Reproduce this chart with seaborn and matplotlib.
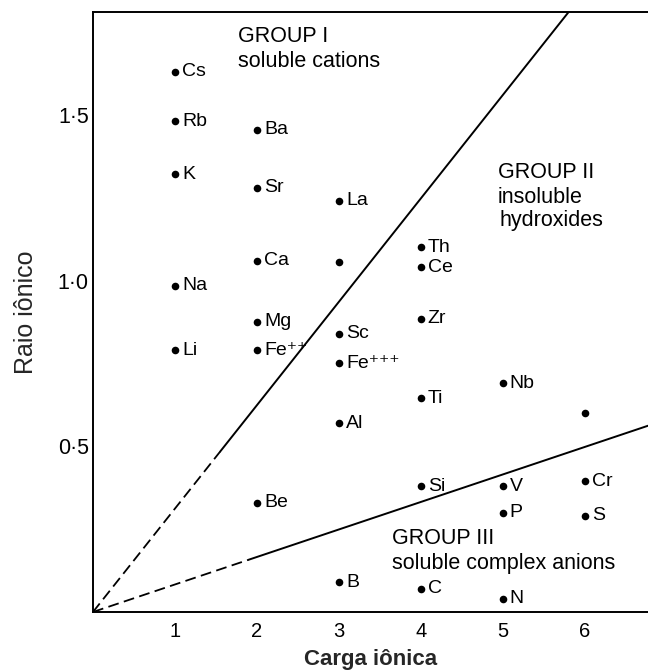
import matplotlib
matplotlib.use("Agg")
import matplotlib.pyplot as plt
import seaborn as sns
import pandas as pd
import numpy as np

# ---- data ----
elements = ["Cs", "Rb", "K", "Na", "Li",
            "Ba", "Sr", "Ca", "Mg", "Fe⁺⁺", "Be",
            "La", "", "Sc", "Fe⁺⁺⁺", "Al", "B",
            "Th", "Ce", "Zr", "Ti", "Si", "C",
            "Nb", "V", "P", "N",
            "", "Cr", "S"]
charge = [1, 1, 1, 1, 1,
          2, 2, 2, 2, 2, 2,
          3, 3, 3, 3, 3, 3,
          4, 4, 4, 4, 4, 4,
          5, 5, 5, 5,
          6, 6, 6]
radius = [1.63, 1.48, 1.32, 0.985, 0.79,
          1.455, 1.28, 1.06, 0.875, 0.79, 0.33,
          1.24, 1.055, 0.84, 0.75, 0.57, 0.09,
          1.10, 1.04, 0.885, 0.645, 0.38, 0.07,
          0.69, 0.38, 0.30, 0.04,
          0.60, 0.395, 0.29]

boundary_slopes = [0.312, 0.083]     # ionic potential boundaries (radius / charge)
boundary_dash_end = [1.55, 1.9]      # dashed portion near origin

yticks = [0.5, 1.0, 1.5]
ytick_labels = ["0·5", "1·0", "1·5"]
xticks = [1, 2, 3, 4, 5, 6]
xlim = (0, 6.77)
ylim = (0, 1.81)

group_texts = [
    (1.77, 1.735, "GROUP I"), (1.77, 1.66, "soluble cations"),
    (4.94, 1.325, "GROUP II"), (4.94, 1.252, "insoluble"), (4.96, 1.18, "hydroxides"),
    (3.65, 0.222, "GROUP III"), (3.65, 0.145, "soluble complex anions"),
]

df = pd.DataFrame({"charge": charge, "radius": radius, "element": elements})

# ---- plot ----
sns.set_theme(style="white")
plt.rcParams["font.family"] = ["Liberation Sans", "DejaVu Sans"]

fig = plt.figure(figsize=(6.48, 6.70), dpi=100)
ax = fig.add_axes([0.1435, 0.0866, 0.8565, 0.8954])

sns.scatterplot(data=df, x="charge", y="radius", color="black", s=30,
                edgecolor="black", linewidth=0, ax=ax, legend=False, zorder=3)

for _, r in df.iterrows():
    if r["element"]:
        ax.annotate(r["element"], (r["charge"], r["radius"]), xytext=(5, 0),
                    textcoords="offset points", va="center", ha="left",
                    fontsize=14, color="black")

for slope, dend in zip(boundary_slopes, boundary_dash_end):
    xd = np.array([0, dend])
    xs = np.array([dend, xlim[1]])
    ax.plot(xd, slope * xd, color="black", lw=1.3, ls=(0, (6, 3)))
    ax.plot(xs, slope * xs, color="black", lw=1.4)

for x, y, t in group_texts:
    ax.text(x, y, t, fontsize=15.5, ha="left", va="center", color="black")

ax.set_xlim(*xlim)
ax.set_ylim(*ylim)
ax.set_xticks(xticks)
ax.set_xticklabels([str(v) for v in xticks], fontsize=14.5)
ax.set_yticks(yticks)
ax.set_yticklabels(ytick_labels, fontsize=15.5)
ax.tick_params(axis="x", direction="in", length=7, width=1.2, pad=7, colors="black")
ax.tick_params(axis="y", direction="in", length=11, width=1.2, pad=3, colors="black")

for side in ["left", "bottom", "top"]:
    ax.spines[side].set_visible(True)
    ax.spines[side].set_color("black")
    ax.spines[side].set_linewidth(1.4)
ax.spines["right"].set_visible(False)

ax.set_xlabel("Carga iônica", fontsize=16, fontweight="bold", labelpad=6)
ax.set_ylabel("Raio iônico", fontsize=18, labelpad=14)

fig.savefig("out.png", dpi=100, facecolor="white")
